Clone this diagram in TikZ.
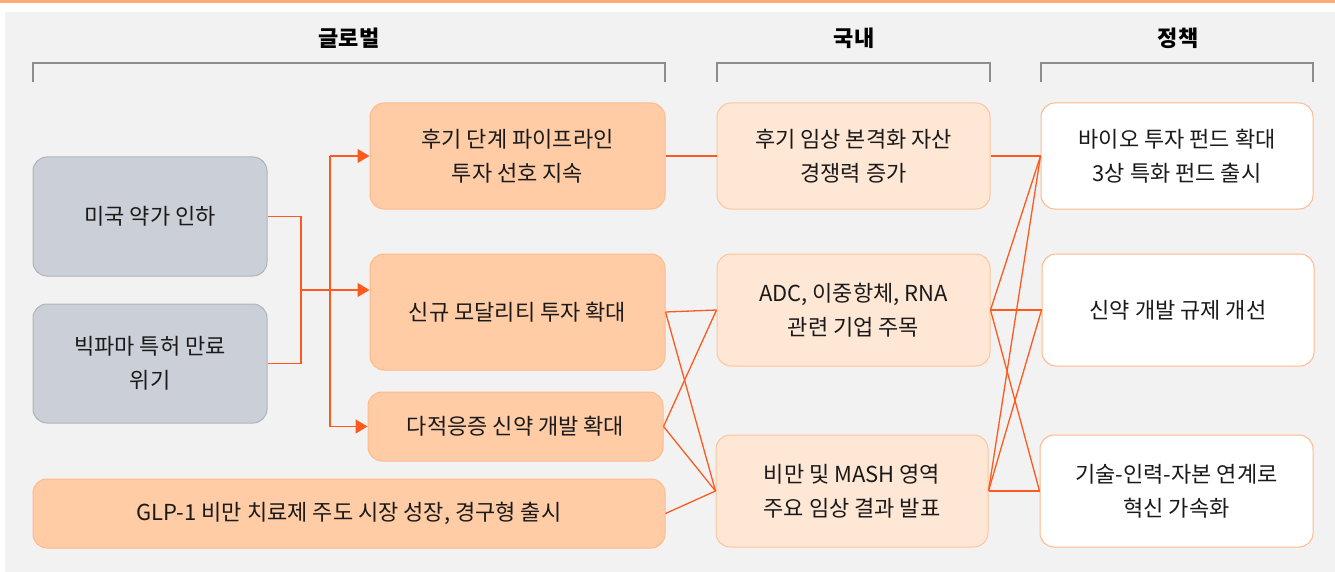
\documentclass[tikz,border=0pt]{standalone}
\usepackage{fontspec}
\setmainfont{Noto Sans CJK KR}
\usetikzlibrary{arrows.meta,calc}
\definecolor{topbar}{HTML}{FFAD74}
\definecolor{bgc}{HTML}{F2F2F2}
\definecolor{grayfill}{HTML}{CBD0D8}
\definecolor{grayline}{HTML}{AEB4BC}
\definecolor{ofill}{HTML}{FFCCA6}
\definecolor{oline}{HTML}{FFB98A}
\definecolor{mfill}{HTML}{FFE7D5}
\definecolor{mline}{HTML}{FFC49C}
\definecolor{lnk}{HTML}{FF5A1E}
\definecolor{txt}{HTML}{1A1A1A}
\definecolor{brk}{HTML}{8C8C8C}
\begin{document}
\begin{tikzpicture}[x=1pt,y=-1pt,
  box/.style={rounded corners=14pt, line width=1pt, align=center, text=txt,
    font=\fontsize{22}{34}\selectfont, inner sep=0pt},
  graybox/.style={box, fill=grayfill, draw=grayline},
  obox/.style={box, fill=ofill, draw=oline},
  mbox/.style={box, fill=mfill, draw=mline},
  wbox/.style={box, fill=white, draw=oline},
  head/.style={font=\fontsize{22}{26}\selectfont\bfseries, text=black},
  brack/.style={draw=brk, line width=1.4pt},
  link/.style={draw=lnk, line width=1.3pt},
  arr/.style={link, -{Triangle[length=12pt,width=14pt]}}
]
\useasboundingbox (0,0) rectangle (1335,572);
\fill[topbar] (0,0) rectangle (1335,3.5);
\fill[bgc] (5,12) rectangle (1335,572);

% headers
\node[head] (hg) at (349,38) {글로벌};
\node[head] (hd) at (854,38) {국내};
\node[head] (hp) at (1178,38) {정책};
\draw[brack] (33,82) -- (33,63) -- (665,63) -- (665,82);
\draw[brack] (717,82) -- (717,63) -- (990,63) -- (990,82);
\draw[brack] (1041,82) -- (1041,63) -- (1313,63) -- (1313,82);

% global column
\node[graybox, minimum width=234pt, minimum height=119pt] (g1) at (150,216.5) {미국 약가 인하};
\node[graybox, minimum width=234pt, minimum height=119pt] (g2) at (150,363.5) {빅파마 특허 만료\\위기};
\node[obox, minimum width=632pt, minimum height=69pt] (glp) at (349,513.5) {GLP-1 비만 치료제 주도 시장 성장, 경구형 출시};
\node[obox, minimum width=295pt, minimum height=106pt] (o1) at (517.5,156) {후기 단계 파이프라인\\투자 선호 지속};
\node[obox, minimum width=295pt, minimum height=116pt] (o2) at (517.5,312) {신규 모달리티 투자 확대};
\node[obox, minimum width=295pt, minimum height=69pt] (o3) at (515.5,426.5) {다적응증 신약 개발 확대};

% domestic column
\node[mbox, minimum width=273pt, minimum height=106pt] (m1) at (853.5,156) {후기 임상 본격화 자산\\경쟁력 증가};
\node[mbox, minimum width=273pt, minimum height=112pt] (m2) at (853.5,310) {ADC, 이중항체, RNA\\관련 기업 주목};
\node[mbox, minimum width=272pt, minimum height=112pt] (m3) at (852,491) {비만 및 MASH 영역\\주요 임상 결과 발표};

% policy column
\node[wbox, minimum width=272pt, minimum height=106pt] (r1) at (1177,156) {바이오 투자 펀드 확대\\3상 특화 펀드 출시};
\node[wbox, minimum width=272pt, minimum height=112pt] (r2) at (1178,310) {신약 개발 규제 개선};
\node[wbox, minimum width=273pt, minimum height=112pt] (r3) at (1176.5,491) {기술-인력-자본 연계로\\혁신 가속화};

% left tree
\coordinate (j) at (301,290);
\coordinate (bt) at (330,0);
\draw[link] (g1.east) -| (j) |- (g2.east);
\draw[arr] (j) -- (o2.west |- j);
\draw[link] (bt |- o1.west) -- (bt |- o3.west);
\draw[arr] (bt |- o1.west) -- (o1.west);
\draw[arr] (bt |- o3.west) -- (o3.west);

% global -> domestic
\draw[link] (o1.east) -- (m1.west);
\draw[link] (o2.east) -- (m2.west);
\draw[link] (o2.east) -- (m3.west);
\draw[link] (o3.east) -- (m2.west);
\draw[link] (o3.east) -- (m3.west);
\draw[link] (glp.east) -- (m3.west);

% domestic -> policy
\draw[link] (m1.east) -- (r1.west);
\draw[link] (m2.east) -- (r1.west);
\draw[link] (m2.east) -- (r2.west);
\draw[link] (m2.east) -- (r3.west);
\draw[link] (m3.east) -- (r1.west);
\draw[link] (m3.east) -- (r2.west);
\draw[link] (m3.east) -- (r3.west);
\end{tikzpicture}
\end{document}
